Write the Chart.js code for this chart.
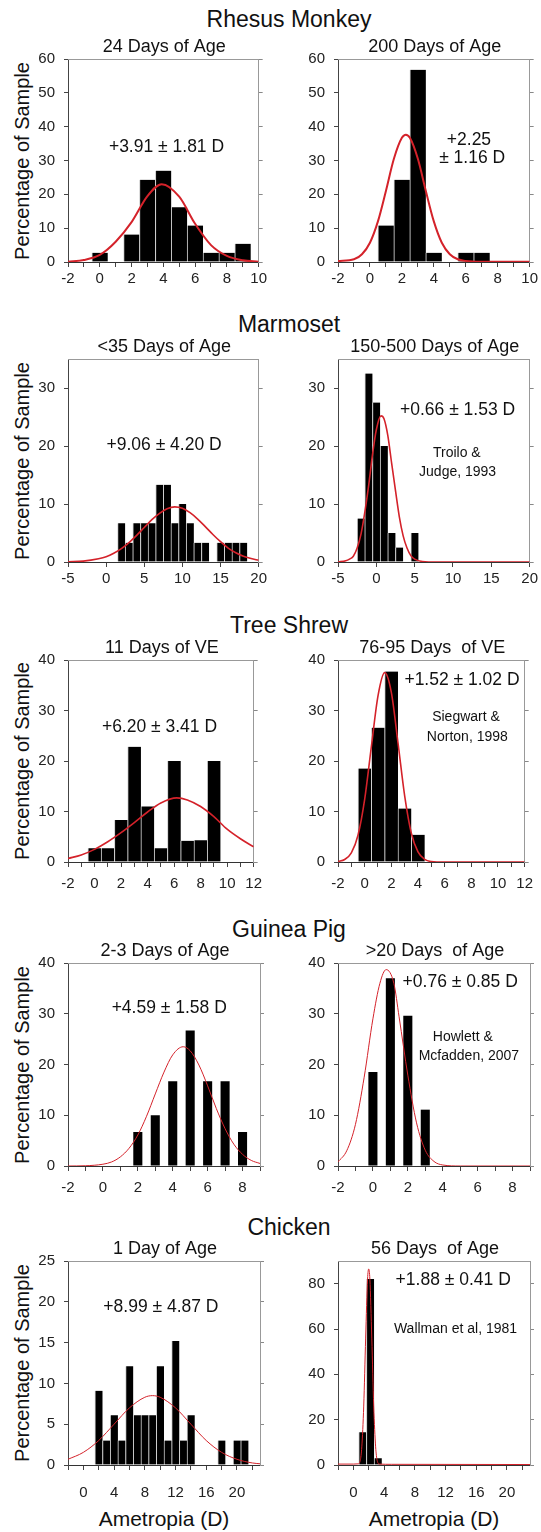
<!DOCTYPE html>
<html>
<head>
<meta charset="utf-8">
<script src="https://cdn.jsdelivr.net/npm/chart.js@4.4.1/dist/chart.umd.min.js"></script>
<style>
body { margin: 0; background: #fff; }
#page { position: relative; width: 541px; height: 1532px; background: #fff; overflow: hidden;
        font-family: "Liberation Sans", Arial, sans-serif; color: #111; }
#page canvas { position: absolute; }
.rowTitle { position: absolute; left: 289px; transform: translate(-50%, -50%); font-size: 23px; white-space: nowrap; }
.yTitle { position: absolute; left: 22px; transform: translate(-50%, -50%) rotate(-90deg); font-size: 20px; white-space: nowrap; }
.xTitle { position: absolute; top: 1519px; transform: translate(-50%, -50%); font-size: 21px; white-space: nowrap; }
</style>
</head>
<body>
<div id="page"></div>
<script>
/*
* DATI
*/

// Rhesus monkey, 24 days
const rhesusYoungX = [0, 2, 3, 4, 5, 6, 7, 8, 9];
const rhesusYoungY = [2.7, 8.1, 24.3, 27.0, 16.2, 10.8, 2.7, 2.7, 5.4];
const rhesusYoungCurveX = [-2, -1, 0, 1, 2, 3, 3.9, 5, 6, 7, 8, 9, 10];
const rhesusYoungCurveY = [0.1, 0.6, 2.1, 6.0, 11.8, 19.5, 23.0, 19.3, 11.3, 5.0, 1.8, 0.5, 0.1];
// Rhesus monkey, 200 days
const rhesusOldX = [1, 2, 3, 4, 6, 7];
const rhesusOldY = [10.8, 24.3, 56.8, 2.7, 2.7, 2.7];
const rhesusOldCurveX = [-2, -1, -0.5, 0, 0.5, 1, 1.5, 2, 2.25, 2.5, 3, 3.5, 4, 4.5, 5, 5.5, 6, 7, 10];
const rhesusOldCurveY = [0.3, 0.8, 2.3, 5.7, 12, 21, 30.5, 36.7, 37.6, 36.7, 30.5, 21, 12, 5.7, 2.3, 0.8, 0.3, 0.1, 0.1];

// Marmoset, <35 days
const marmosetYoungX = [2, 3, 4, 5, 6, 7, 8, 9, 10, 11, 12, 13, 15, 16, 17, 18];
const marmosetYoungY = [6.7, 3.3, 6.7, 6.7, 6.7, 13.3, 13.3, 6.7, 10, 6.7, 3.3, 3.3, 3.3, 3.3, 3.3, 3.3];
const marmosetYoungCurveX = [-5, -3, -1, 0, 1, 2, 3, 4, 5, 6, 7, 8, 9, 10, 11, 12, 13, 14, 15, 16, 17, 18, 19, 20];
const marmosetYoungCurveY = [0.05, 0.15, 0.55, 0.9, 1.5, 2.3, 3.35, 4.6, 5.95, 7.3, 8.4, 9.2, 9.5, 9.25, 8.5, 7.4, 6.1, 4.75, 3.5, 2.4, 1.6, 1.0, 0.6, 0.3];
// Marmoset, 150-500 days
const marmosetOldX = [-2, -1, 0, 1, 2, 3, 5];
const marmosetOldY = [7.5, 32.5, 27.5, 20, 5, 2.5, 5];
const marmosetOldCurveX = [-5, -4, -3.5, -3, -2.5, -2, -1.5, -1, -0.5, 0, 0.6, 1, 1.5, 2, 2.5, 3, 3.5, 4, 4.5, 5, 6, 8, 20];
const marmosetOldCurveY = [0.02, 0.2, 0.5, 1.0, 2.4, 4.8, 8.6, 13.2, 18.5, 22.8, 25.2, 24.7, 21.8, 17.0, 12.3, 7.8, 4.5, 2.4, 1.1, 0.5, 0.1, 0, 0];

// Tree shrew, 11 days of VE
const shrewYoungX = [0, 1, 2, 3, 4, 5, 6, 7, 8, 9];
const shrewYoungY = [2.7, 2.7, 8.3, 22.8, 11.0, 2.7, 20.0, 4.2, 4.3, 20.0];
const shrewYoungCurveX = [-2, -1, 0, 1, 2, 3, 4, 5, 6.2, 7, 8, 9, 10, 11, 12];
const shrewYoungCurveY = [0.7, 1.4, 2.5, 4.0, 5.8, 7.8, 9.9, 11.7, 12.7, 12.3, 11.0, 9.0, 6.5, 4.6, 3.0];
// Tree shrew, 76-95 days of VE
const shrewOldX = [0, 1, 2, 3, 4];
const shrewOldY = [18.5, 26.6, 37.7, 10.6, 5.4];
const shrewOldCurveX = [-2, -1.5, -1, -0.5, 0, 0.5, 1, 1.5, 2, 2.5, 3, 3.5, 4, 4.5, 5, 6, 12];
const shrewOldCurveY = [0.1, 0.5, 1.8, 5.3, 12.4, 22.8, 32.9, 37.5, 33.6, 23.6, 13.1, 5.7, 2.0, 0.5, 0.1, 0, 0];

// Guinea pig, 2-3 days
const guineaYoungX = [2, 3, 4, 5, 6, 7, 8];
const guineaYoungY = [6.7, 10, 16.7, 26.7, 16.7, 16.7, 6.7];
const guineaYoungCurveX = [-2, -1, 0, 0.5, 1, 1.5, 2, 2.5, 3, 3.5, 4, 4.6, 5, 5.5, 6, 6.5, 7, 7.5, 8, 8.5, 9];
const guineaYoungCurveY = [0, 0.05, 0.35, 0.8, 1.8, 3.5, 6.1, 9.8, 14.2, 18.5, 21.9, 23.5, 22.7, 19.9, 15.8, 11.3, 7.35, 4.3, 2.3, 1.1, 0.5];
// Guinea pig, >20 days
const guineaOldX = [0, 1, 2, 3];
const guineaOldY = [18.5, 37.0, 29.6, 11.1];
const guineaOldCurveX = [-2, -1.5, -1, -0.5, 0, 0.4, 0.76, 1.2, 1.5, 2, 2.5, 3, 3.5, 4, 5, 9];
const guineaOldCurveY = [0.8, 3.0, 8.2, 17.5, 29.0, 36.0, 38.7, 36.0, 29.4, 17.9, 8.5, 3.1, 0.9, 0.2, 0, 0];

// Chicken, 1 day
const chickYoungX = [2, 3, 4, 5, 6, 7, 8, 9, 10, 11, 12, 13, 14, 18, 20, 21];
const chickYoungY = [9.1, 3.0, 6.1, 3.0, 12.1, 6.1, 6.1, 6.1, 12.1, 3.0, 15.2, 3.0, 6.1, 3.0, 3.0, 3.0];
const chickYoungCurveX = [-2, 0, 2, 4, 6, 8, 9, 10, 12, 14, 16, 18, 20, 22, 23];
const chickYoungCurveY = [0.7, 1.55, 3.0, 5.0, 7.0, 8.3, 8.5, 8.3, 7.0, 5.0, 3.0, 1.55, 0.7, 0.25, 0.15];
// Chicken, 56 days
const chickOldX = [1.2, 2.2, 3.2];
const chickOldY = [14.5, 82.1, 3.0];
const chickOldCurveX = [-2, 0, 0.6, 0.9, 1.1, 1.35, 1.6, 1.85, 2.0, 2.15, 2.4, 2.65, 2.9, 3.1, 3.4, 5, 23];
const chickOldCurveY = [0.4, 0.4, 0.5, 2, 8, 26, 56, 82, 86.5, 82, 56, 26, 8, 2, 0.4, 0.3, 0.2];

// Assi: tacche e etichette
const ticksM1to10 = [-2, -1, 0, 1, 2, 3, 4, 5, 6, 7, 8, 9, 10];
const labelsM2to10 = [-2, 0, 2, 4, 6, 8, 10];
const ticksMarmoset = [-5, 0, 5, 10, 15, 20];
const ticksShrew = [-2, -1, 0, 1, 2, 3, 4, 5, 6, 7, 8, 9, 10, 11, 12];
const labelsShrew = [-2, 0, 2, 4, 6, 8, 10, 12];
const ticksGuinea = [-2, -1, 0, 1, 2, 3, 4, 5, 6, 7, 8, 9];
const labelsGuinea = [-2, 0, 2, 4, 6, 8];
const ticksChick = [-2, 0, 2, 4, 6, 8, 10, 12, 14, 16, 18, 20, 22];
const labelsChick = [0, 4, 8, 12, 16, 20];

const yTicks60 = [0, 10, 20, 30, 40, 50, 60];
const yTicks30 = [0, 10, 20, 30];
const yTicks40 = [0, 10, 20, 30, 40];
const yTicks25 = [0, 5, 10, 15, 20, 25];
const yTicks80 = [0, 20, 40, 60, 80];

/*
* LAYOUT
*/
const FONT = '"Liberation Sans", Arial, sans-serif';
const RED = 'rgb(212, 34, 42)';
const page = document.getElementById('page');

// una riga per specie: posizione del riquadro del grafico
const rows = [
    { title: 'Rhesus Monkey', titleY: 19, top: 59, h: 203, xh: 36, labelPad: 3 },
    { title: 'Marmoset', titleY: 324, top: 359, h: 203, xh: 36, labelPad: 3 },
    { title: 'Tree Shrew', titleY: 625, top: 660, h: 202, xh: 36, labelPad: 8 },
    { title: 'Guinea Pig', titleY: 929, top: 963, h: 203, xh: 36, labelPad: 8 },
    { title: 'Chicken', titleY: 1227, top: 1261, h: 204, xh: 44, labelPad: 14 }
];

// sottotitolo, cornice e scritte dentro il grafico
const panelText = {
    id: 'panelText',
    afterDraw(chart, args, opts) {
        const ctx = chart.ctx;
        const a = chart.chartArea;
        const x = chart.scales.x;
        const y = chart.scales.y;
        ctx.save();
        ctx.strokeStyle = '#999';
        ctx.lineWidth = 1;
        ctx.beginPath();
        ctx.moveTo(a.left, a.top + 0.5);
        ctx.lineTo(a.right, a.top + 0.5);
        ctx.stroke();
        ctx.fillStyle = '#111';
        ctx.textAlign = 'center';
        ctx.textBaseline = 'middle';
        ctx.font = '18px ' + FONT;
        ctx.fillText(opts.subtitle, (a.left + a.right) / 2 + 1, a.top - 12);
        opts.notes.forEach(n => {
            ctx.font = n.size + 'px ' + FONT;
            ctx.fillText(n.text, x.getPixelForValue(n.x), y.getPixelForValue(n.y));
        });
        ctx.restore();
    }
};

function newPanel(p) {
    const row = rows[p.row];
    const left = p.side === 'L' ? 0 : 270;
    const width = p.side === 'L' ? 270 : 271;
    const canvas = document.createElement('canvas');
    canvas.width = width;
    canvas.height = 24 + row.h + row.xh;
    canvas.style.left = left + 'px';
    canvas.style.top = (row.top - 24) + 'px';
    page.appendChild(canvas);

    const bars = p.barX.map((v, i) => ({ x: v, y: p.barY[i] }));
    const curve = p.curveX.map((v, i) => ({ x: v, y: p.curveY[i] }));
    const fixY = s => { s.ticks = p.yTicks.map(v => ({ value: v })); };

    return new Chart(canvas, {
        type: 'bar',
        data: {
            datasets: [{
                type: 'line',
                data: curve,
                borderColor: RED,
                borderWidth: p.lineW,
                pointRadius: 0,
                cubicInterpolationMode: 'monotone',
                order: 0
            }, {
                type: 'bar',
                data: bars,
                backgroundColor: '#000',
                borderColor: '#cfcfcf',
                borderWidth: p.narrow ? 0 : { left: 1, right: 0, top: 0, bottom: 0 },
                borderSkipped: false,
                barPercentage: p.narrow ? 0.52 : 1,
                categoryPercentage: 1,
                order: 1
            }]
        },
        plugins: [panelText],
        options: {
            responsive: false,
            animation: false,
            layout: { padding: { top: 24, left: 0, bottom: 0, right: width - 260 - 4 } },
            scales: {
                x: {
                    type: 'linear',
                    min: p.xMin,
                    max: p.xMax,
                    offset: false,
                    grid: { offset: false, drawOnChartArea: false, tickLength: 5, color: '#444' },
                    border: { color: '#333' },
                    afterBuildTicks: s => { s.ticks = p.xTicks.map(v => ({ value: v })); },
                    afterFit: s => { s.height = row.xh; },
                    ticks: {
                        autoSkip: false,
                        maxRotation: 0,
                        padding: row.labelPad,
                        color: '#222',
                        font: { family: FONT, size: 15 },
                        callback: v => p.xLabels.includes(v) ? String(v) : ''
                    }
                },
                y: {
                    min: 0,
                    max: p.yMax,
                    grid: { drawOnChartArea: false, tickLength: 4, color: '#444' },
                    border: { color: '#444' },
                    afterBuildTicks: fixY,
                    afterFit: s => { s.width = 68; },
                    ticks: { padding: 9, color: '#222', font: { family: FONT, size: 15 } }
                },
                y2: {
                    position: 'right',
                    min: 0,
                    max: p.yMax,
                    grid: { drawOnChartArea: false, tickLength: 4, color: '#888' },
                    border: { color: '#999' },
                    afterBuildTicks: fixY,
                    ticks: { display: false }
                }
            },
            plugins: {
                legend: { display: false },
                tooltip: { enabled: false },
                panelText: { subtitle: p.subtitle, notes: p.notes }
            }
        }
    });
}

// titoli delle righe e degli assi
rows.forEach(r => {
    const t = document.createElement('div');
    t.className = 'rowTitle';
    t.style.top = r.titleY + 'px';
    t.textContent = r.title;
    page.appendChild(t);
    const yt = document.createElement('div');
    yt.className = 'yTitle';
    yt.style.top = (r.top + r.h / 2) + 'px';
    yt.textContent = 'Percentage of Sample';
    page.appendChild(yt);
});
[164, 434].forEach(cx => {
    const xt = document.createElement('div');
    xt.className = 'xTitle';
    xt.style.left = cx + 'px';
    xt.textContent = 'Ametropia (D)';
    page.appendChild(xt);
});

/*
* PANNELLI
*/
newPanel({ row: 0, side: 'L', subtitle: '24 Days of Age',
    barX: rhesusYoungX, barY: rhesusYoungY, curveX: rhesusYoungCurveX, curveY: rhesusYoungCurveY, lineW: 2,
    xMin: -2, xMax: 10, xTicks: ticksM1to10, xLabels: labelsM2to10, yMax: 60, yTicks: yTicks60,
    notes: [{ text: '+3.91 \u00b1 1.81 D', x: 4.2, y: 34, size: 17.5 }] });
newPanel({ row: 0, side: 'R', subtitle: '200 Days of Age',
    barX: rhesusOldX, barY: rhesusOldY, curveX: rhesusOldCurveX, curveY: rhesusOldCurveY, lineW: 2,
    xMin: -2, xMax: 10, xTicks: ticksM1to10, xLabels: labelsM2to10, yMax: 60, yTicks: yTicks60,
    notes: [{ text: '+2.25', x: 6.2, y: 36, size: 17.5 }, { text: '\u00b1 1.16 D', x: 6.4, y: 30.7, size: 17.5 }] });

newPanel({ row: 1, side: 'L', subtitle: '<35 Days of Age',
    barX: marmosetYoungX, barY: marmosetYoungY, curveX: marmosetYoungCurveX, curveY: marmosetYoungCurveY, lineW: 1.6,
    xMin: -5, xMax: 20, xTicks: ticksMarmoset, xLabels: ticksMarmoset, yMax: 35, yTicks: yTicks30,
    notes: [{ text: '+9.06 \u00b1 4.20 D', x: 7.6, y: 20.2, size: 17.5 }] });
newPanel({ row: 1, side: 'R', subtitle: '150-500 Days of Age',
    barX: marmosetOldX, barY: marmosetOldY, curveX: marmosetOldCurveX, curveY: marmosetOldCurveY, lineW: 1.6,
    xMin: -5, xMax: 20, xTicks: ticksMarmoset, xLabels: ticksMarmoset, yMax: 35, yTicks: yTicks30,
    notes: [{ text: '+0.66 \u00b1 1.53 D', x: 10.6, y: 26.2, size: 17.5 },
            { text: 'Troilo &', x: 10.5, y: 18.8, size: 14 },
            { text: 'Judge, 1993', x: 10.6, y: 15.5, size: 14 }] });

newPanel({ row: 2, side: 'L', subtitle: '11 Days of VE',
    barX: shrewYoungX, barY: shrewYoungY, curveX: shrewYoungCurveX, curveY: shrewYoungCurveY, lineW: 1.6,
    xMin: -2, xMax: 12, xTicks: ticksShrew, xLabels: labelsShrew, yMax: 40, yTicks: yTicks40,
    notes: [{ text: '+6.20 \u00b1 3.41 D', x: 4.9, y: 26.7, size: 17.5 }] });
newPanel({ row: 2, side: 'R', subtitle: '76-95 Days  of VE',
    barX: shrewOldX, barY: shrewOldY, curveX: shrewOldCurveX, curveY: shrewOldCurveY, lineW: 1.6,
    xMin: -2, xMax: 12, xTicks: ticksShrew, xLabels: labelsShrew, yMax: 40, yTicks: yTicks40,
    notes: [{ text: '+1.52 \u00b1 1.02 D', x: 7.3, y: 36, size: 17.5 },
            { text: 'Siegwart &', x: 7.6, y: 28.7, size: 14 },
            { text: 'Norton, 1998', x: 7.7, y: 24.8, size: 14 }] });

newPanel({ row: 3, side: 'L', subtitle: '2-3 Days of Age', narrow: true,
    barX: guineaYoungX, barY: guineaYoungY, curveX: guineaYoungCurveX, curveY: guineaYoungCurveY, lineW: 1,
    xMin: -2, xMax: 9, xTicks: ticksGuinea, xLabels: labelsGuinea, yMax: 40, yTicks: yTicks40,
    notes: [{ text: '+4.59 \u00b1 1.58 D', x: 3.8, y: 31.1, size: 17.5 }] });
newPanel({ row: 3, side: 'R', subtitle: '>20 Days  of Age', narrow: true,
    barX: guineaOldX, barY: guineaOldY, curveX: guineaOldCurveX, curveY: guineaOldCurveY, lineW: 1,
    xMin: -2, xMax: 9, xTicks: ticksGuinea, xLabels: labelsGuinea, yMax: 40, yTicks: yTicks40,
    notes: [{ text: '+0.76 \u00b1 0.85 D', x: 5.0, y: 36.3, size: 17.5 },
            { text: 'Howlett &', x: 5.15, y: 25.4, size: 14 },
            { text: 'Mcfadden, 2007', x: 5.5, y: 21.7, size: 14 }] });

newPanel({ row: 4, side: 'L', subtitle: '1 Day of Age',
    barX: chickYoungX, barY: chickYoungY, curveX: chickYoungCurveX, curveY: chickYoungCurveY, lineW: 1,
    xMin: -2, xMax: 23, xTicks: ticksChick, xLabels: labelsChick, yMax: 25, yTicks: yTicks25,
    notes: [{ text: '+8.99 \u00b1 4.87 D', x: 10.1, y: 19.4, size: 17.5 }] });
newPanel({ row: 4, side: 'R', subtitle: '56 Days  of Age',
    barX: chickOldX, barY: chickOldY, curveX: chickOldCurveX, curveY: chickOldCurveY, lineW: 1,
    xMin: -2, xMax: 23, xTicks: ticksChick, xLabels: labelsChick, yMax: 90, yTicks: yTicks80,
    notes: [{ text: '+1.88 \u00b1 0.41 D', x: 13.0, y: 81.6, size: 17.5 },
            { text: 'Wallman et al, 1981', x: 13.3, y: 60, size: 14 }] });
</script>
</body>
</html>
